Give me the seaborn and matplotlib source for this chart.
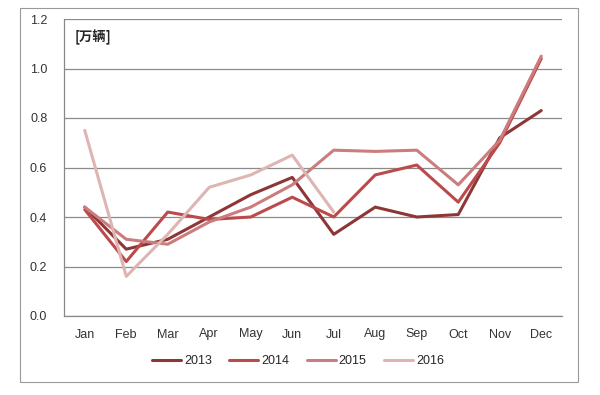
import numpy as np
import pandas as pd
import seaborn as sns
import matplotlib.pyplot as plt
from matplotlib.patches import Rectangle

months = ["Jan", "Feb", "Mar", "Apr", "May", "Jun",
          "Jul", "Aug", "Sep", "Oct", "Nov", "Dec"]
v2013 = [0.44, 0.27, 0.31, 0.40, 0.49, 0.56, 0.33, 0.44, 0.40, 0.41, 0.72, 0.83]
v2014 = [0.43, 0.22, 0.42, 0.39, 0.40, 0.48, 0.40, 0.57, 0.61, 0.46, 0.70, 1.04]
v2015 = [0.44, 0.31, 0.29, 0.38, 0.44, 0.53, 0.67, 0.665, 0.67, 0.53, 0.71, 1.05]
v2016 = [0.75, 0.16, 0.33, 0.52, 0.57, 0.65, 0.42]
years = ["2013", "2014", "2015", "2016"]
colors = ["#8E3636", "#BC4A4C", "#CB7C7D", "#DDB5B2"]

rows = []
for yr, vals in zip(years, [v2013, v2014, v2015, v2016]):
    for i, v in enumerate(vals):
        rows.append({"idx": i, "month": months[i], "val": v, "year": yr})
df = pd.DataFrame(rows)

sns.set_style("white")
plt.rcParams['font.family'] = ['Liberation Sans', 'Noto Sans CJK SC', 'DejaVu Sans']

fig = plt.figure(figsize=(6, 3.95), dpi=100)
ax = fig.add_axes([64/600, 1-316/395, (562-64)/600, (316-19)/395])

sns.lineplot(data=df, x="idx", y="val", hue="year", palette=colors,
             linewidth=2.2, ax=ax, legend=True)

ax.set_xlim(-0.5, 11.5)
ax.set_ylim(0, 1.2)
ax.set_yticks(np.arange(0, 1.21, 0.2))
ax.set_yticklabels([f"{t:.1f}" for t in np.arange(0, 1.21, 0.2)], fontsize=9, color="#333333")
ax.set_xticks(range(12))
ax.set_xticklabels(months, fontsize=9, color="#333333")
ax.set_xticks(np.arange(-0.5, 12, 1), minor=True)
ax.tick_params(axis="x", which="major", length=0, pad=9)
ax.tick_params(axis="x", which="minor", length=4, color="#888888", direction="out")
ax.tick_params(axis="y", length=4, color="#888888", direction="out", pad=8)
ax.set_xlabel("")
ax.set_ylabel("")
ax.yaxis.grid(True, color="#8a8a8a", linewidth=0.9)
ax.xaxis.grid(False)
ax.set_axisbelow(True)
for s in ["top", "right"]:
    ax.spines[s].set_visible(False)
for s in ["left", "bottom"]:
    ax.spines[s].set_color("#888888")
    ax.spines[s].set_linewidth(0.9)

ax.text(0.022, 0.94, "[万辆]", transform=ax.transAxes, fontsize=9.5,
        fontweight="bold", family=['Noto Sans CJK SC', 'DejaVu Sans'],
        va="center", ha="left")

handles, labels = ax.get_legend_handles_labels()
ax.legend(handles, labels, loc="center", bbox_to_anchor=(0.47, -0.152),
          ncol=4, frameon=False, fontsize=9, handlelength=2.3,
          handletextpad=0.25, columnspacing=1.4)

fig.patches.append(Rectangle((20/600, 1-382/395), 558/600, 374/395,
                             transform=fig.transFigure, fill=False,
                             edgecolor="#999999", linewidth=0.8))

fig.savefig("out.png", dpi=100)
